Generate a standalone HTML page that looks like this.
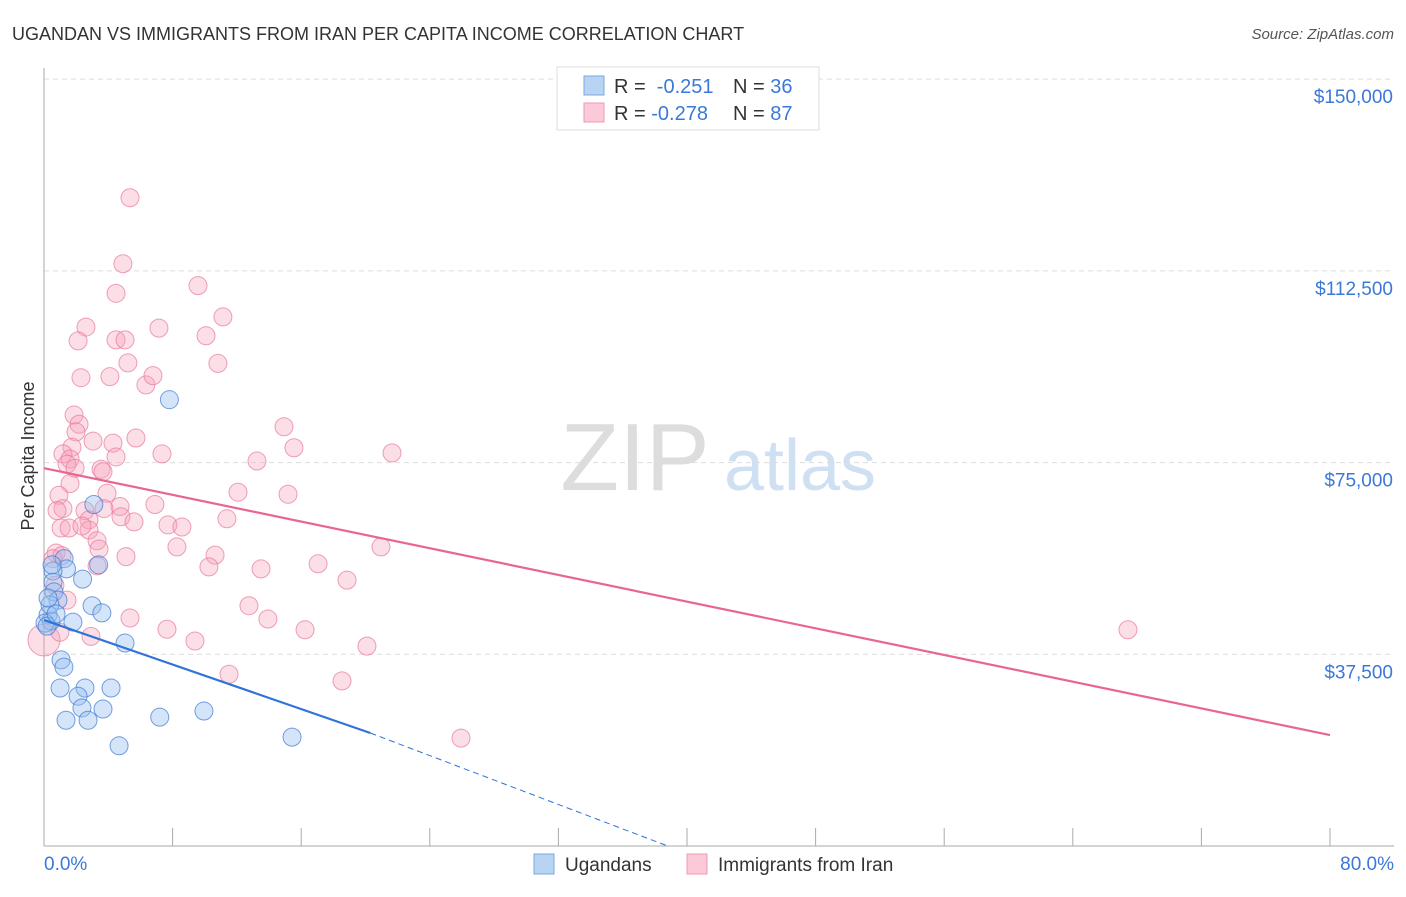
<!DOCTYPE html>
<html><head><meta charset="utf-8"><style>
body{margin:0;background:#fff;font-family:"Liberation Sans",sans-serif;}
svg text{font-family:"Liberation Sans",sans-serif;}
</style></head><body>
<svg id="chart" width="1406" height="892" xmlns="http://www.w3.org/2000/svg">
<text x="12" y="40" font-size="18" fill="#333">UGANDAN VS IMMIGRANTS FROM IRAN PER CAPITA INCOME CORRELATION CHART</text>
<text x="1394" y="39" font-size="15" fill="#555" font-style="italic" text-anchor="end">Source: ZipAtlas.com</text>
<text x="635" y="490" font-size="96" fill="#ddd" font-family="Liberation Serif" text-anchor="middle">ZIP</text>
<text x="800" y="490" font-size="72" fill="#cfe0f3" text-anchor="middle">atlas</text>
<text x="34" y="456" font-size="18" fill="#333" text-anchor="middle" transform="rotate(-90 34 456)">Per Capita Income</text>
<g id="grid"></g><g id="axes"></g><g id="pts"></g><g id="lines"></g>
<g>
<rect x="557" y="67" width="262" height="63" fill="#fff" stroke="#ddd"/>
<rect x="584" y="76" width="20" height="19" fill="#b9d3f3" stroke="#7aa8e0"/>
<rect x="584" y="103" width="20" height="19" fill="#fbc9d7" stroke="#ee9ab3"/>
<text x="614" y="93" font-size="20" fill="#333">R = <tspan fill="#3b78d8">&#160;-0.251</tspan><tspan x="733">N = </tspan><tspan fill="#3b78d8">36</tspan></text>
<text x="614" y="120" font-size="20" fill="#333">R = <tspan fill="#3b78d8">-0.278</tspan><tspan x="733">N = </tspan><tspan fill="#3b78d8">87</tspan></text>
</g>
<g>
<rect x="534" y="854" width="20" height="20" fill="#b9d3f3" stroke="#7aa8e0"/>
<text x="565" y="871" font-size="19" fill="#333">Ugandans</text>
<rect x="687" y="854" width="20" height="20" fill="#fbc9d7" stroke="#ee9ab3"/>
<text x="718" y="871" font-size="19" fill="#333">Immigrants from Iran</text>
</g>
</svg>
<script>
const yTicks=[37500,75000,112500,150000];
const yTickLabels=["$37,500","$75,000","$112,500","$150,000"];
const xTickLabels=["0.0%","80.0%"];
const blueX=[7.8,3.1,1.25,1.4,0.56,3.4,0.56,2.4,0.62,0.87,2.99,3.6,0.25,1.8,0.44,0.06,5.04,1.06,1.24,1.0,2.55,4.17,2.12,2.36,3.67,1.37,2.74,7.2,9.95,4.67,15.43,0.19,0.37,0.75,0.25,0.5];
const blueY=[87300,66800,56200,54200,53800,55000,51600,52200,49700,48100,47000,45600,45200,43800,44000,43600,39700,36400,35000,30900,30900,30900,29300,27000,26800,24600,24600,25200,26400,19600,21300,43000,47200,45400,48500,55000];
const pinkX=[5.35,4.91,4.48,9.58,11.13,2.61,7.15,2.12,4.48,5.04,10.08,5.22,10.82,2.3,4.1,6.34,6.78,1.87,2.18,1.99,3.05,4.29,5.72,1.74,15.55,14.93,7.34,1.18,1.62,4.48,3.55,3.67,13.25,21.65,1.43,1.62,12.07,15.18,3.92,0.93,6.9,1.18,4.73,0.81,3.73,2.55,4.79,5.6,11.38,2.8,1.06,1.56,7.71,8.58,2.8,3.3,8.27,3.42,20.96,0.75,0.56,5.1,10.64,3.3,10.26,13.5,17.05,0.68,18.85,1.43,12.75,5.35,13.93,7.65,16.24,67.43,2.92,9.39,20.09,0.0,11.51,18.54,25.94,0.99,1.93,2.36,1.12];
const pinkY=[126800,113900,108100,109600,103500,101500,101300,98800,99000,99000,99800,94500,94400,91600,91800,90200,92000,84300,82500,81000,79200,78800,79800,78000,77900,82000,76700,76700,75700,76100,73700,73200,75300,76900,74700,70900,69200,68800,69000,68600,66800,66000,66400,65600,66000,65600,64400,63400,64000,63800,62200,62200,62800,62400,61800,59700,58500,58100,58500,57300,56200,56600,56900,54800,54600,54200,55200,51000,52000,48100,47000,44600,44400,42400,42300,42300,41000,40100,39100,40300,33600,32300,21100,41800,73900,62600,56800];
const pinkTrend=[[0,73900],[80,21700]];
const blueTrend=[[0,44200],[20.3,22100]];
const blueDash=[[20.3,22100],[38.8,0]];
const X=v=>44+v*16.075, Y=v=>846-v/195.6;
const NS="http://www.w3.org/2000/svg";
function mk(tag,attrs,parent){const e=document.createElementNS(NS,tag);for(const k in attrs)e.setAttribute(k,attrs[k]);document.getElementById(parent).appendChild(e);return e;}
yTicks.forEach((t,i)=>{
  const g=mk('line',{x1:44,x2:1394,y1:Y(t),y2:Y(t),stroke:'#ddd','stroke-dasharray':'5,4'},'grid');
  
  
  const tx=mk('text',{x:1393,y:Y(t)+24,'font-size':19,fill:'#3b78d8','text-anchor':'end'},'axes');
  tx.textContent=yTickLabels[i];
  
  
});
let ax=mk('line',{x1:44,x2:44,y1:68,y2:846,stroke:'#aaa'},'axes');


ax=mk('line',{x1:44,x2:1394,y1:846,y2:846,stroke:'#aaa'},'axes');


for(let i=0;i<=10;i++){const px=44+i*128.6;const t=mk('line',{x1:px,x2:px,y1:828,y2:846,stroke:'#aaa'},'axes');

}
[[0,'start',44],[80,'end',1394]].forEach((d,i)=>{const t=mk('text',{x:d[2],y:870,'font-size':19,fill:'#3b78d8','text-anchor':d[1]},'axes');t.textContent=xTickLabels[i];

});
pinkX.forEach((v,i)=>{const c=mk('circle',{cx:X(v),cy:Y(pinkY[i]),r:i==79?16:9,fill:'rgba(246,160,187,0.35)',stroke:'rgba(232,120,155,0.7)','stroke-width':1},'pts');

});
blueX.forEach((v,i)=>{const c=mk('circle',{cx:X(v),cy:Y(blueY[i]),r:9,fill:'rgba(150,190,240,0.4)',stroke:'rgba(60,120,210,0.7)','stroke-width':1},'pts');

});
let l=mk('line',{x1:X(pinkTrend[0][0]),y1:Y(pinkTrend[0][1]),x2:X(pinkTrend[1][0]),y2:Y(pinkTrend[1][1]),stroke:'#e8668f','stroke-width':2.2},'lines');


l=mk('line',{x1:X(blueTrend[0][0]),y1:Y(blueTrend[0][1]),x2:X(blueTrend[1][0]),y2:Y(blueTrend[1][1]),stroke:'#2f74d6','stroke-width':2.2},'lines');


l=mk('line',{x1:X(blueDash[0][0]),y1:Y(blueDash[0][1]),x2:X(blueDash[1][0]),y2:Y(blueDash[1][1]),stroke:'#2f74d6','stroke-width':1,'stroke-dasharray':'6,4'},'lines');


</script>
</body></html>
